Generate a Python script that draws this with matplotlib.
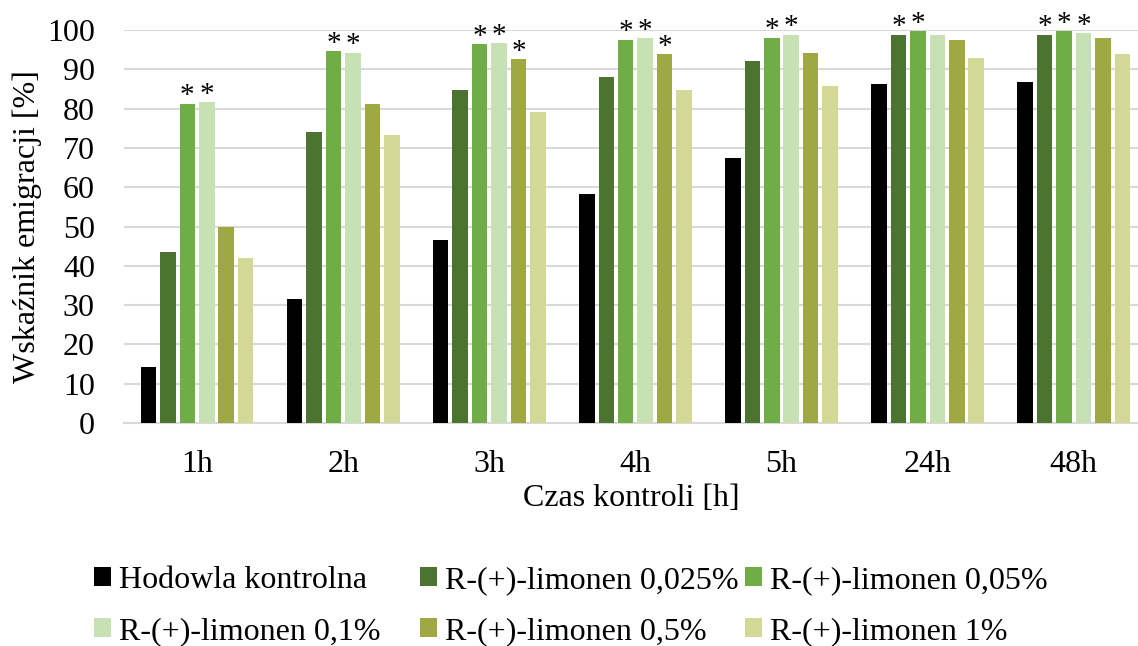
import numpy as np
import matplotlib.pyplot as plt

plt.rcParams['font.family'] = ['Liberation Serif', 'DejaVu Serif']

# dane
czas = ['1h', '2h', '3h', '4h', '5h', '24h', '48h']
serie = ['Hodowla kontrolna', 'R-(+)-limonen 0,025%', 'R-(+)-limonen 0,05%',
         'R-(+)-limonen 0,1%', 'R-(+)-limonen 0,5%', 'R-(+)-limonen 1%']
kontrola = [14.4, 31.6, 46.6, 58.3, 67.5, 86.2, 86.7]
lim_0025 = [43.6, 74.1, 84.6, 87.9, 92.1, 98.8, 98.8]
lim_005 = [81.2, 94.6, 96.3, 97.5, 98.0, 99.6, 99.6]
lim_01 = [81.6, 94.2, 96.6, 97.9, 98.8, 98.8, 99.2]
lim_05 = [49.9, 81.2, 92.5, 93.8, 94.2, 97.5, 98.0]
lim_1 = [42.0, 73.3, 79.0, 84.6, 85.8, 92.9, 93.8]
# gwiazdki istotnosci (True = *)
gw_0025 = [False, False, False, False, False, True, True]
gw_005 = [True, True, True, True, True, True, True]
gw_01 = [True, True, True, True, True, False, True]
gw_05 = [False, False, True, True, False, False, False]

wartosci = [kontrola, lim_0025, lim_005, lim_01, lim_05, lim_1]
gwiazdki = [None, gw_0025, gw_005, gw_01, gw_05, None]
kolory = ['#000000', '#4C7330', '#70AD47', '#C7E0B4', '#A0A844', '#D3D897']

fs = 23

fig = plt.figure(figsize=(11.38, 6.46), dpi=100)
ax = fig.add_axes([0.109, 0.345, 0.891, 0.6087])

x = np.arange(len(czas))
krok = 0.133
szer = 0.106
uchwyty = []
for i, (vals, kol) in enumerate(zip(wartosci, kolory)):
    pos = x + (i - 2.5) * krok
    b = ax.bar(pos, vals, width=szer, color=kol, label=serie[i], zorder=3)
    uchwyty.append(b)
    if gwiazdki[i] is not None:
        for p, v, g in zip(pos, vals, gwiazdki[i]):
            if g:
                ax.annotate('*', (p, v), xytext=(0, -4), textcoords='offset points',
                            ha='center', va='bottom', fontsize=21,
                            annotation_clip=False, zorder=4)

ax.set_ylim(0, 100)
ax.set_xlim(-0.5, 6.44)
ax.set_yticks(np.arange(0, 101, 10))
ax.set_xticks(x)
ax.set_xticklabels(czas)
ax.yaxis.grid(True, color='#D9D9D9', linewidth=1.5, zorder=0)
ax.set_axisbelow(True)
for s in ['top', 'right', 'left']:
    ax.spines[s].set_visible(False)
ax.spines['bottom'].set_color('#D9D9D9')
ax.spines['bottom'].set_linewidth(1.5)
ax.tick_params(axis='y', length=0, pad=21, labelsize=fs)
ax.tick_params(axis='x', length=0, pad=19, labelsize=fs)
ax.set_ylabel('Wskaźnik emigracji [%]', fontsize=fs, labelpad=3.5)
ax.set_xlabel('Czas kontroli [h]', fontsize=fs, labelpad=4)

# legenda w trzech kolumnach o rownej szerokosci (jak w Excelu)
kolumny = [[0, 3], [1, 4], [2, 5]]
lewe_x = [94 / 1138, 420 / 1138, 745 / 1138]
for kol_idx, lx in zip(kolumny, lewe_x):
    leg = fig.legend([uchwyty[k] for k in kol_idx], [serie[k] for k in kol_idx],
                     loc='center left', bbox_to_anchor=(lx, 0.062), frameon=False,
                     fontsize=fs, handlelength=0.53, handleheight=0.53,
                     handletextpad=0.25, labelspacing=0.675,
                     borderpad=0, borderaxespad=0)

fig.savefig('out.png', dpi=100)
